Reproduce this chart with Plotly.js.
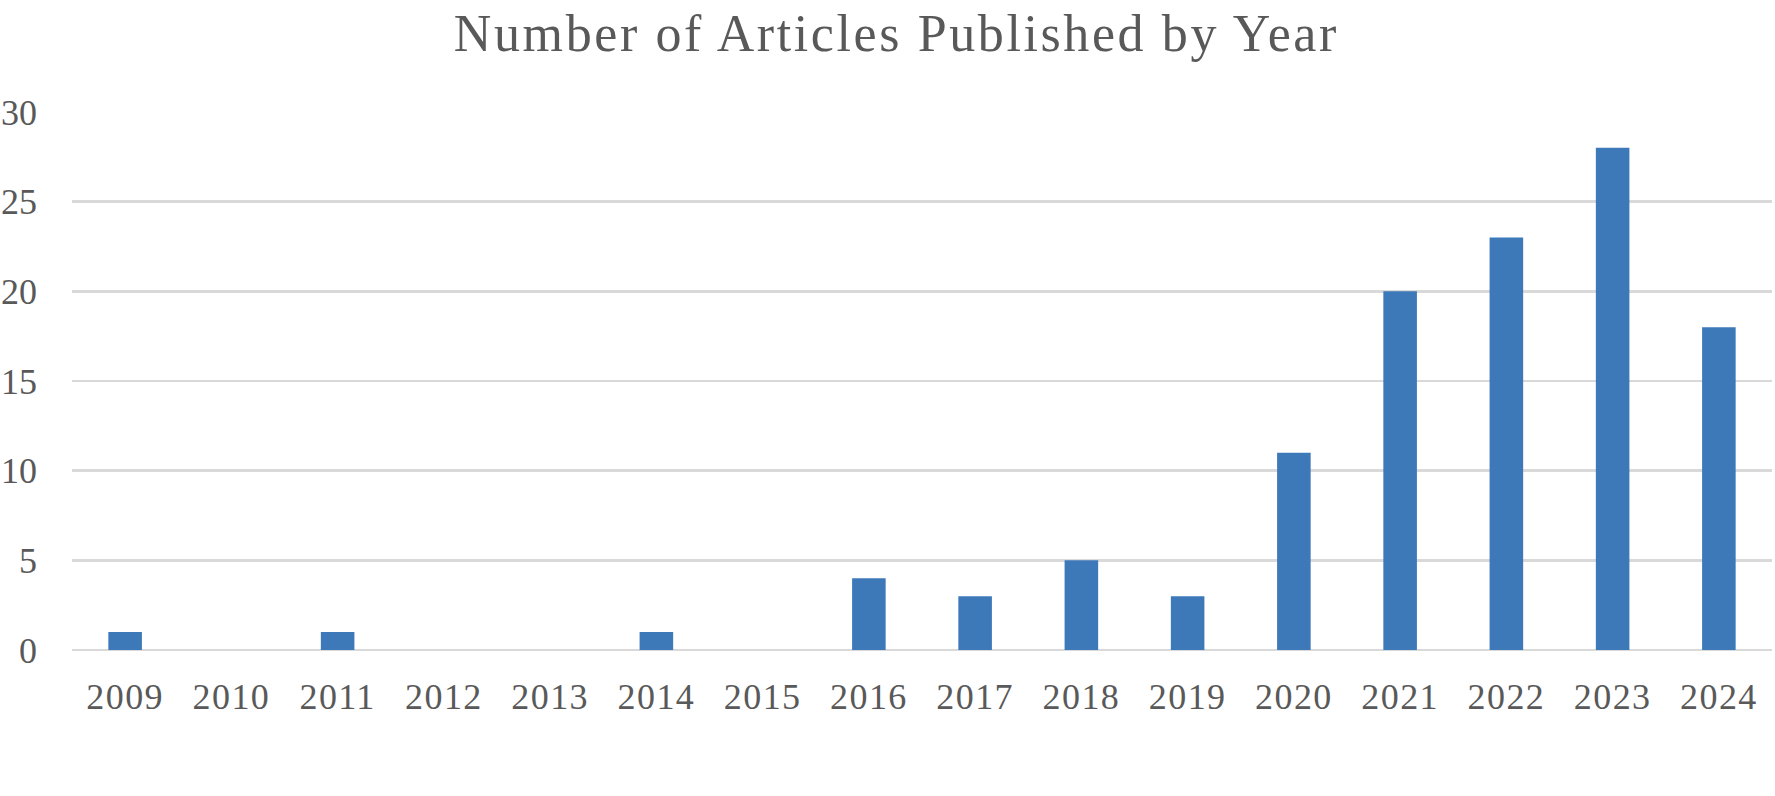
<!DOCTYPE html>
<html><head><meta charset="utf-8">
<script src="https://cdn.plot.ly/plotly-3.0.1.min.js"></script>
<style>html,body{margin:0;padding:0;background:#fff}#chart{width:1775px;height:796px}
.gtitle{letter-spacing:2.6px}
.xtick text{letter-spacing:1.4px}
</style>
</head><body><div id="chart"></div>
<script>
const years = ['2009','2010','2011','2012','2013','2014','2015','2016','2017','2018','2019','2020','2021','2022','2023','2024'];
const articles = [1,0,1,0,0,1,0,4,3,5,3,11,20,23,28,18];
const yTicks = [0,5,10,15,20,25,30];
const titleText = 'Number of Articles Published by Year';

const fontFam = '"Liberation Serif", "DejaVu Serif", serif';
const gray = '#595959';

Plotly.newPlot('chart', [{
  type: 'bar', x: years, y: articles,
  marker: {color: '#3d78b9'},
  hoverinfo: 'x+y'
}], {
  width: 1775, height: 796,
  margin: {l: 72, r: 3, t: 112, b: 146},
  paper_bgcolor: '#fff', plot_bgcolor: '#fff',
  bargap: 0.684,
  title: {text: titleText, font: {family: fontFam, size: 52, color: gray}, x: 0.505, xanchor: 'center', xref: 'container', y: 0.982, yanchor: 'top', yref: 'container'},
  xaxis: {type: 'category', tickfont: {family: fontFam, size: 36, color: gray}, showgrid: false, zeroline: false, showline: false, ticks: '', ticklabelstandoff: 22, fixedrange: true},
  yaxis: {range: [0, 30], tickvals: yTicks, tickfont: {family: fontFam, size: 36, color: gray}, showgrid: true, gridcolor: '#d9d9d9', gridwidth: 2.5, zeroline: true, zerolinecolor: '#d9d9d9', zerolinewidth: 2.5, showline: false, ticks: '', ticklabelstandoff: 34, fixedrange: true},
  showlegend: false
}, {displayModeBar: false, staticPlot: true});
</script></body></html>
